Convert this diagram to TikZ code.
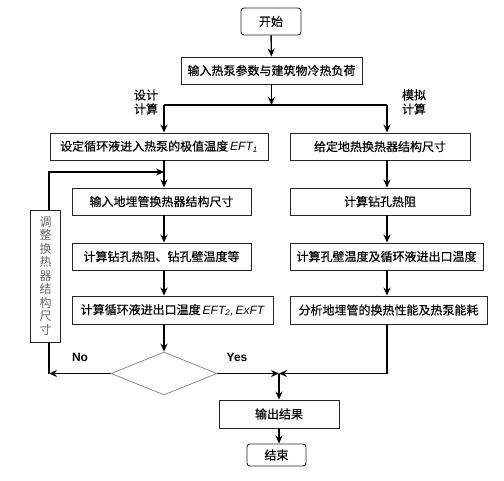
\documentclass[tikz,border=0pt]{standalone}
\usepackage{fontspec}
\setmainfont{Liberation Sans}
\newfontfamily\cjk[FakeBold=0.4]{Noto Sans CJK SC}
\newfontfamily\cjklight{Noto Sans CJK SC}
\newcommand{\lat}[1]{{\normalfont\itshape #1}}
\usetikzlibrary{arrows.meta,shapes.geometric}
\begin{document}
\begin{tikzpicture}[x=1pt,y=-1pt,
  box/.style={draw=black!85,line width=0.9pt,inner sep=0pt,font=\cjk\fontsize{12}{14}\selectfont},
  rbox/.style={box,rounded corners=3pt},
  arr/.style={line width=1.4pt,-{Stealth[length=8pt,width=7pt]}},
  ln/.style={line width=1.4pt},
  lbl/.style={font=\cjk\fontsize{12}{14}\selectfont,align=center,inner sep=0pt}]
\useasboundingbox (0,0) rectangle (504,480);
% nodes (positions in px, y downward)
\node[rbox,minimum width=60pt,minimum height=27pt] (start) at (271,21.5) {开始};
\node[box,minimum width=181pt,minimum height=27pt] (input) at (271.5,70.5) {输入热泵参数与建筑物冷热负荷};
\node[box,minimum width=218pt,minimum height=27pt] (l1) at (159,146.5) {设定循环液进入热泵的极值温度\,\lat{EFT\textsubscript{1}}};
\node[box,minimum width=180pt,minimum height=27pt] (r1) at (380,146.5) {给定地热换热器结构尺寸};
\node[box,minimum width=179pt,minimum height=27pt] (l2) at (161.5,201.5) {输入地埋管换热器结构尺寸};
\node[box,minimum width=179pt,minimum height=27pt] (l3) at (161.5,256.5) {计算钻孔热阻、钻孔壁温度等};
\node[box,minimum width=201pt,minimum height=28pt] (l4) at (172.5,310) {计算循环液进出口温度\,\lat{EFT\textsubscript{2},\,ExFT}};
\node[box,minimum width=180pt,minimum height=27pt] (r2) at (380,201.5) {计算钻孔热阻};
\node[box,minimum width=193pt,minimum height=27pt] (r3) at (386.5,256.5) {计算孔壁温度及循环液进出口温度};
\node[box,minimum width=197pt,minimum height=28pt] (r4) at (388.5,310) {分析地埋管的换热性能及热泵能耗};
\node[box,minimum width=30pt,minimum height=132pt,text=black!60,align=center,font=\cjklight\fontsize{12}{13.5}\selectfont] (adj) at (45.5,276) {调\\整\\换\\热\\器\\结\\构\\尺\\寸};
\node[diamond,draw=black!45,line width=0.8pt,minimum width=106pt,minimum height=43pt,inner sep=0pt,aspect=2.46] (dec) at (164,373.5) {};
\node[box,minimum width=120pt,minimum height=28pt] (out) at (279,414) {输出结果};
\node[rbox,minimum width=59pt,minimum height=22pt] (end) at (276.5,455) {结束};
% labels
\node[lbl] (lblL) at (146,102) {设计\\计算};
\node[lbl] (lblR) at (414,102) {模拟\\计算};
\node[font=\bfseries\fontsize{12}{14}\selectfont,inner sep=0pt] (no) at (80,357) {No};
\node[font=\bfseries\fontsize{12}{14}\selectfont,inner sep=0pt] (yes) at (237,357) {Yes};
% coordinates
\coordinate (split) at (271.5,105);
\coordinate (splitL) at (164,105);
\coordinate (splitR) at (387,105);
\coordinate (fbTop) at (49,172);
\coordinate (fbEnd) at (164,172);
\coordinate (noC) at (49,373.5);
\coordinate (merge) at (279,373.5);
\coordinate (rC) at (387,373.5);
% connectors
\draw[arr] (start) -- (input);
\draw[arr] (input) -- (split);
\draw[ln] (splitL) -- (splitR);
\draw[arr] (splitL) -- (splitL |- l1.north);
\draw[arr] (splitR) -- (splitR |- r1.north);
\draw[arr] (l1.south -| splitL) -- (splitL |- l2.north);
\draw[arr] (splitL |- l2.south) -- (splitL |- l3.north);
\draw[arr] (splitL |- l3.south) -- (splitL |- l4.north);
\draw[arr] (splitL |- l4.south) -- (dec.north);
\draw[arr] (splitR |- r1.south) -- (splitR |- r2.north);
\draw[arr] (splitR |- r2.south) -- (splitR |- r3.north);
\draw[arr] (splitR |- r3.south) -- (splitR |- r4.north);
\draw[arr] (adj.north -| fbTop) -- (fbTop) -- (fbEnd);
\draw[arr] (dec.west) -- (noC);
\draw[ln] (adj.south -| noC) -- (noC);
\draw[arr] (dec.east) -- (merge);
\draw[arr] (splitR |- r4.south) -- (rC) -- (merge);
\draw[arr] (merge) -- (out.north -| merge);
\draw[arr] (out.south -| merge) -- (end.north -| merge);
\end{tikzpicture}
\end{document}
